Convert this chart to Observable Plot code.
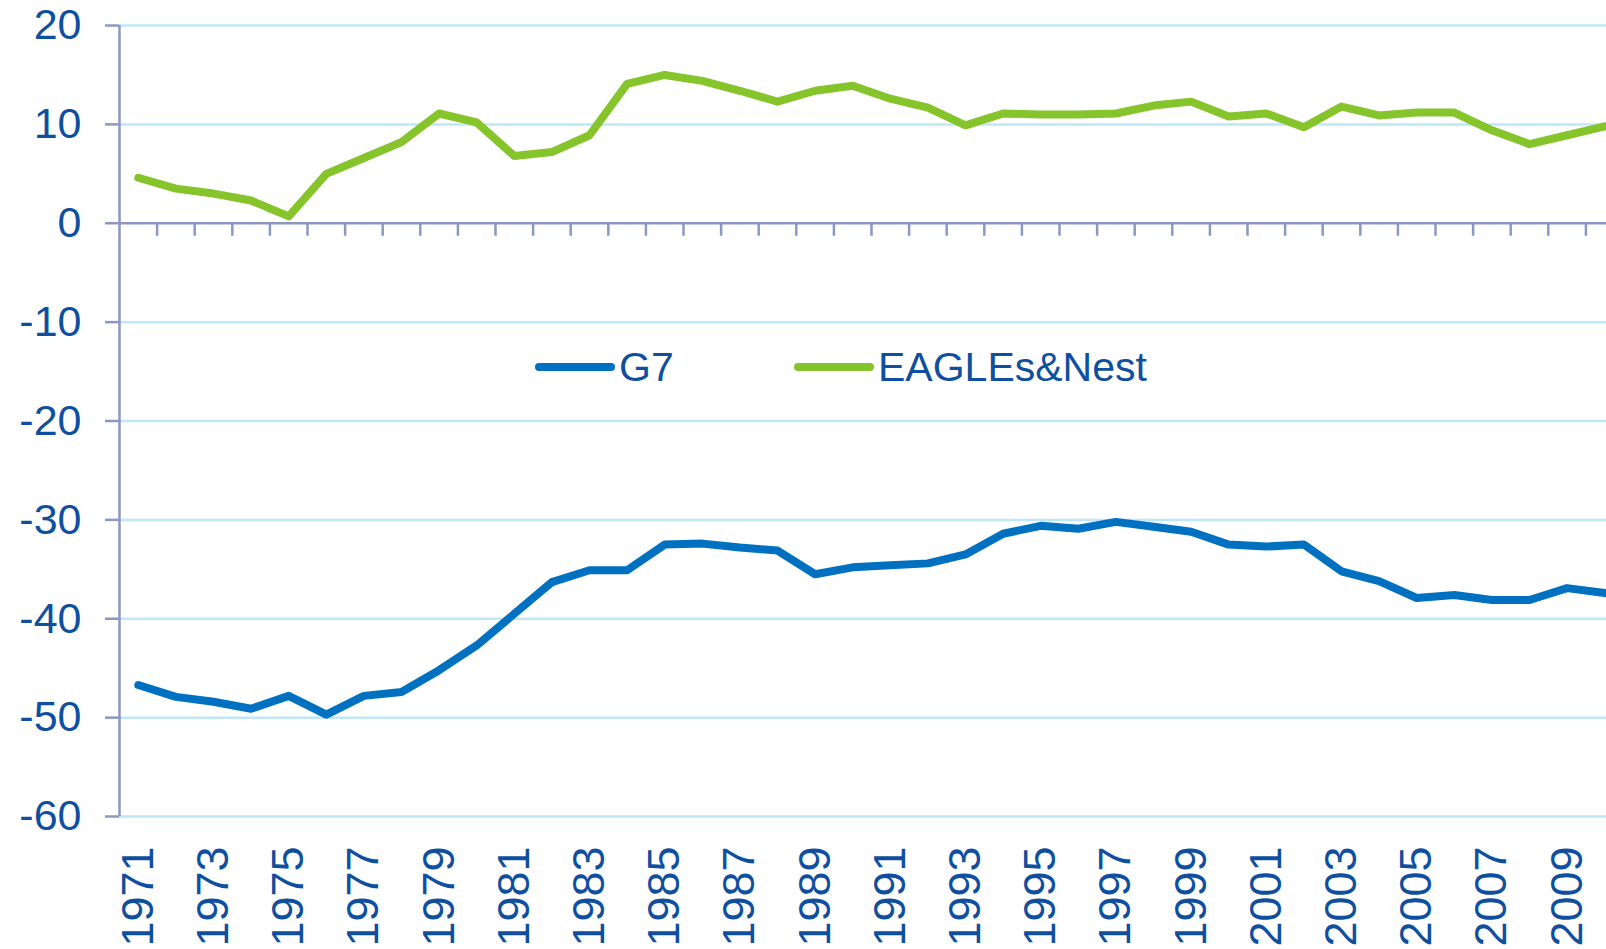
<!DOCTYPE html>
<html><head><meta charset="utf-8">
<script src="https://cdn.jsdelivr.net/npm/d3@7"></script>
<script src="https://cdn.jsdelivr.net/npm/@observablehq/plot@0.6"></script>
<style>
html,body{margin:0;padding:0;background:#fff;}
#wrap{position:relative;width:1606px;height:949px;overflow:hidden;}
.leg{position:absolute;top:347px;height:40px;display:flex;align-items:center;font-family:"Liberation Sans",Arial,sans-serif;font-size:41px;color:#0f4f9f;}
.leg svg{display:block;margin-right:4px;}
</style></head><body><div id="wrap"></div>
<script>
const years = [1971,1972,1973,1974,1975,1976,1977,1978,1979,1980,1981,1982,1983,1984,1985,1986,1987,1988,1989,1990,
               1991,1992,1993,1994,1995,1996,1997,1998,1999,2000,2001,2002,2003,2004,2005,2006,2007,2008,2009,2010];
const g7 = [-46.7,-47.9,-48.4,-49.1,-47.8,-49.7,-47.8,-47.4,-45.2,-42.7,-39.5,-36.3,-35.1,-35.1,-32.5,-32.4,-32.8,-33.1,-35.5,-34.8,
            -34.6,-34.4,-33.5,-31.4,-30.6,-30.9,-30.2,-30.7,-31.2,-32.5,-32.7,-32.5,-35.2,-36.2,-37.9,-37.6,-38.1,-38.1,-36.9,-37.4];
const eagles = [4.6,3.5,3.0,2.3,0.7,5.0,6.6,8.2,11.1,10.2,6.8,7.2,8.9,14.1,15.0,14.4,13.4,12.3,13.4,13.9,
                12.6,11.7,9.9,11.1,11.0,11.0,11.1,11.9,12.3,10.8,11.1,9.7,11.8,10.9,11.2,11.2,9.4,8.0,8.9,9.8];
const yTicks = [20,10,0,-10,-20,-30,-40,-50,-60];
const gridTicks = [20,10,-10,-20,-30,-40,-50,-60];
const labelYears = [1971,1973,1975,1977,1979,1981,1983,1985,1987,1989,1991,1993,1995,1997,1999,2001,2003,2005,2007,2009];
const seriesNames = ["G7","EAGLEs&Nest"];
const seriesColors = ["#0070c0","#86c42b"];

const textColor = "#0f4f9f";
const axisColor = "#8c97c1";
const gridColor = "#bfe7f7";

const g7Data = years.map((y,i)=>({year:y, value:g7[i]}));
const eaData = years.map((y,i)=>({year:y, value:eagles[i]}));
const boundaries = years.slice(0,-1).map(y => y + 0.5);
const x0 = years[0]-0.5, x1 = years[years.length-1]+0.5;

const chart = Plot.plot({
  width: 1606,
  height: 949,
  marginLeft: 119,
  marginTop: 25,
  marginBottom: 133,
  marginRight: 0,
  style: {fontFamily: "'Liberation Sans', Arial, sans-serif", background: "#fff", overflow: "hidden"},
  x: {type: "linear", domain: [x0, x1], range: [119, 1623], axis: null},
  y: {domain: [-60, 20], axis: null},
  marks: [
    Plot.ruleY(gridTicks, {x1: x0, x2: x1, stroke: gridColor, strokeWidth: 2.5}),
    Plot.ruleY([0], {x1: x0, x2: x1, stroke: axisColor, strokeWidth: 2.5}),
    Plot.ruleX(boundaries, {y1: 0, y2: 0, insetBottom: -13, stroke: axisColor, strokeWidth: 2.5}),
    Plot.ruleX([x0], {y1: -60, y2: 20, stroke: axisColor, strokeWidth: 2.5}),
    Plot.axisY({ticks: yTicks, tickSize: 14, tickPadding: 24, tickFormat: d => String(d), label: null,
      stroke: axisColor, strokeWidth: 2.5, fill: textColor, fontSize: 43}),
    Plot.axisX({ticks: labelYears, anchor: "bottom", tickSize: 0, tickPadding: 30, tickRotate: -90, label: null,
      tickFormat: d => String(d), fill: textColor, fontSize: 45}),
    Plot.lineY(g7Data, {x: "year", y: "value", stroke: seriesColors[0], strokeWidth: 8, strokeLinecap: "round", strokeLinejoin: "round"}),
    Plot.lineY(eaData, {x: "year", y: "value", stroke: seriesColors[1], strokeWidth: 8, strokeLinecap: "round", strokeLinejoin: "round"})
  ]
});
const wrap = document.getElementById("wrap");
wrap.appendChild(chart);

const legLeft = [535, 794];
seriesNames.forEach((name, i) => {
  const d = document.createElement("div");
  d.className = "leg";
  d.style.left = legLeft[i] + "px";
  d.innerHTML = `<svg width="80" height="10"><line x1="4" y1="5" x2="76" y2="5" stroke="${seriesColors[i]}" stroke-width="8" stroke-linecap="round"/></svg><span>${name.replace("&","&amp;")}</span>`;
  wrap.appendChild(d);
});
</script></body></html>
